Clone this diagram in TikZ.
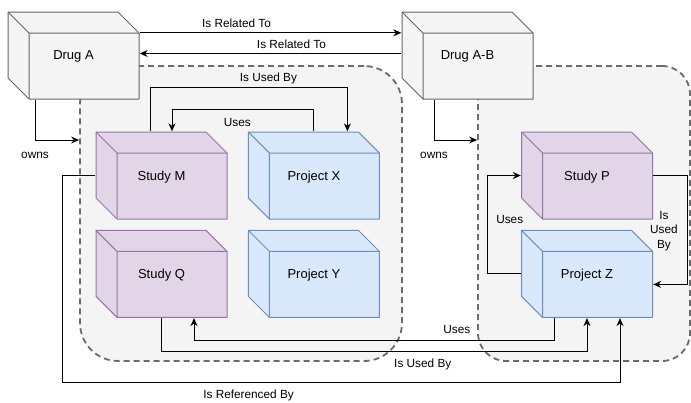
\documentclass[tikz,border=0pt]{standalone}
\usepackage{fontspec}
\setmainfont{Liberation Sans}
\usetikzlibrary{positioning,arrows.meta}

\definecolor{drugfill}{HTML}{F5F5F5}
\definecolor{drugline}{HTML}{666666}
\definecolor{studyfill}{HTML}{E1D5E7}
\definecolor{studyline}{HTML}{9673A6}
\definecolor{projectfill}{HTML}{DAE8FC}
\definecolor{projectline}{HTML}{6C8EBF}
\definecolor{groupfill}{HTML}{F4F4F4}
\definecolor{groupline}{HTML}{6B6B6B}

\tikzset{cube/.style 2 args={rectangle, inner sep=0pt, minimum width=132pt, minimum height=88pt, text depth=0pt, font=\fontsize{13}{15}\selectfont,
	path picture={
		\draw[fill=#1, draw=#2, line width=1pt, line join=round]
			([shift={(0.5pt,-0.5pt)}]path picture bounding box.north west)
			-- ([shift={(-21.5pt,-0.5pt)}]path picture bounding box.north east)
			-- ([shift={(-0.5pt,-21.5pt)}]path picture bounding box.north east)
			-- ([shift={(-0.5pt,0.5pt)}]path picture bounding box.south east)
			-- ([shift={(21.5pt,0.5pt)}]path picture bounding box.south west)
			-- ([shift={(0.5pt,21.5pt)}]path picture bounding box.south west)
			-- cycle;
		\draw[draw=#2, line width=1pt, line join=round]
			([shift={(0.5pt,-0.5pt)}]path picture bounding box.north west)
			-- ([shift={(21.5pt,-21.5pt)}]path picture bounding box.north west)
			-- ([shift={(-0.5pt,-21.5pt)}]path picture bounding box.north east)
			([shift={(21.5pt,-21.5pt)}]path picture bounding box.north west)
			-- ([shift={(21.5pt,0.5pt)}]path picture bounding box.south west);
	}}}

\tikzstyle{drug-block} = [cube={drugfill}{drugline}]
\tikzstyle{study-block} = [cube={studyfill}{studyline}]
\tikzstyle{project-block} = [cube={projectfill}{projectline}]
\tikzstyle{group-box} = [rectangle, draw=groupline, fill=groupfill, line width=1.8pt, dash pattern=on 6pt off 4pt, minimum height=295pt]
\tikzstyle{link} = [draw=black, line width=1pt, -{Stealth[length=8pt, width=7pt]}]
\tikzstyle{link-label} = [font=\fontsize{11.8}{14.5}\selectfont, inner sep=2pt, text height=8.5pt, text depth=0pt]
\tikzstyle{stack-label} = [font=\fontsize{11.8}{14.5}\selectfont, inner sep=2pt, align=center]

\begin{document}
\begin{tikzpicture}[x=1pt, y=-1pt]
	\useasboundingbox (0,0) rectangle (691,402);

	\node [group-box, minimum width=322pt, rounded corners=38pt] (GroupA) at (241,213.5) {};
	\node [group-box, minimum width=212pt, rounded corners=28pt] (GroupB) at (584,213.5) {};

	\node [drug-block] (DrugA) at (73.5,55.5) {Drug A};
	\node [drug-block] (DrugAB) at (467.5,55.5) {Drug A-B};
	\node [study-block] (StudyM) at (161.5,175.5) {Study M};
	\node [project-block, right=20pt of StudyM] (ProjectX) {Project X};
	\node [study-block, below=10pt of StudyM] (StudyQ) {Study Q};
	\node [project-block, below=10pt of ProjectX] (ProjectY) {Project Y};
	\node [study-block] (StudyP) at (587,175.5) {Study P};
	\node [project-block, below=10pt of StudyP] (ProjectZ) {Project Z};

	\draw[link] ([yshift=-21.5pt]DrugA.north east) -- node[link-label, above=2.7pt, pos=0.37] {Is Related To} ([yshift=-21.5pt]DrugAB.north west);
	\draw[link] ([yshift=2pt]DrugAB.west) -- node[link-label, above=2.7pt, pos=0.42] {Is Related To} ([yshift=2pt]DrugA.east);

	\draw[link] ([xshift=-38.5pt]DrugA.south) |- node[link-label, below=7.5pt, pos=0.5] {owns} (GroupA.west |- 0,140);
	\draw[link] ([xshift=-33.5pt]DrugAB.south) |- node[link-label, below=7.5pt, pos=0.5] {owns} (GroupB.west |- 0,140);

	\draw[link] ([xshift=-11.5pt]StudyM.north) -- ++(0,-44) -| node[link-label, above=3pt, pos=0.3] {Is Used By} ([xshift=33.5pt]ProjectX.north);
	\draw[link] (ProjectX.north) -- ++(0,-22) -| node[link-label, below=6pt, pos=0.27] {Uses} ([xshift=10.5pt]StudyM.north);

	\draw[link] (StudyP.east) -- ++(34,0) |- node[stack-label, left=7pt, pos=0.255] {Is\\Used\\By} ([yshift=-10.5pt]ProjectZ.east);
	\draw[link] (ProjectZ.west) -- ++(-33,0) |- node[link-label, right=6pt, pos=0.28] {Uses} (StudyP.west);

	\draw[link] ([xshift=-33pt]ProjectZ.south) -- ++(0,22) -| node[link-label, above=4pt, pos=0.135] {Uses} ([xshift=32.5pt]StudyQ.south);
	\draw[link] (StudyQ.south) -- ++(0,33) -| node[link-label, below=5pt, pos=0.307] {Is Used By} (ProjectZ.south);
	\draw[link] (StudyM.west) -- ++(-33,0) -- ++(0,207) -| node[link-label, below=4.5pt, pos=0.167] {Is Referenced By} ([xshift=33pt]ProjectZ.south);

\end{tikzpicture}
\end{document}
